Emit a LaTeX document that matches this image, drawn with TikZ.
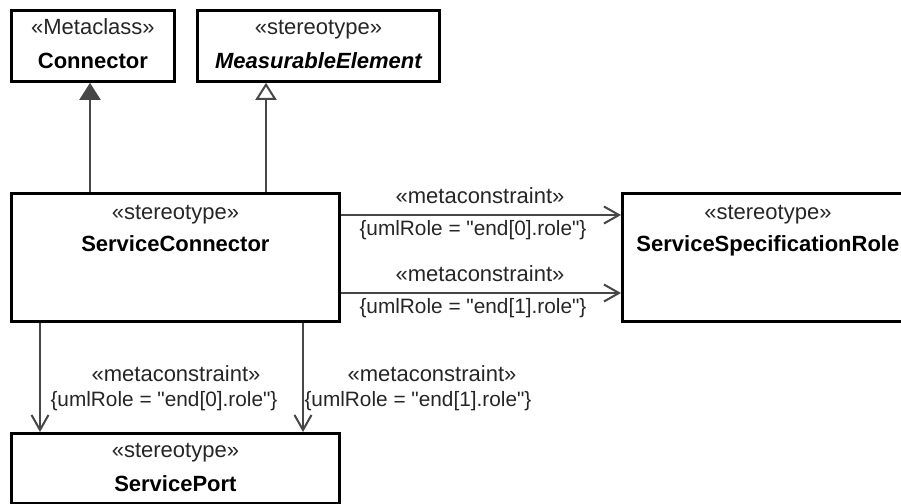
\documentclass[tikz,border=0pt]{standalone}
\usepackage{fontspec}
\setmainfont{Liberation Sans}
\newfontfamily\plainfont{Liberation Sans}
\usetikzlibrary{arrows.meta,calc}
\definecolor{linegray}{HTML}{474747}
\definecolor{txtgray}{HTML}{262626}
\begin{document}
\begin{tikzpicture}[x=0.5pt,y=-0.5pt,
  box/.style={draw=black,line width=1.4pt,fill=white,inner sep=0pt,anchor=north west},
  stereo/.style={font=\plainfont\fontsize{11pt}{13pt}\selectfont,text=txtgray,inner sep=0pt,anchor=base},
  cname/.style={font=\plainfont\fontsize{11pt}{13pt}\selectfont\bfseries,text=black,inner sep=0pt,anchor=base},
  lbl/.style={font=\plainfont\fontsize{11pt}{13pt}\selectfont,text=txtgray,inner sep=0pt,anchor=base},
  cst/.style={font=\plainfont\fontsize{10.4pt}{12pt}\selectfont,text=txtgray,inner sep=0pt,anchor=base},
  conn/.style={draw=linegray,line width=1pt},
  mc/.style={conn,-{Straight Barb[length=7.5pt,width=8.5pt,line width=1pt]}},
  ext/.style={conn,-{Triangle[length=8.5pt,width=10.5pt,fill=linegray]}},
  gen/.style={conn,-{Triangle[open,length=8.5pt,width=10.5pt,fill=white]}}]
\clip (0,0) rectangle (901,504);
\fill[white] (0,0) rectangle (901,504);

% boxes
\node[box,minimum width=81.5pt,minimum height=35.5pt] (conn) at (10,9) {};
\node[box,minimum width=121pt,minimum height=35.5pt] (meas) at (196,9) {};
\node[box,minimum width=164pt,minimum height=64pt] (sc) at (10,192) {};
\node[box,minimum width=145.5pt,minimum height=64pt] (ssr) at (621,192) {};
\node[box,minimum width=164pt,minimum height=35pt] (sp) at (10,432) {};

% box texts
\node[stereo] (conn-st) at ($(conn.north)+(0,25)$) {«Metaclass»};
\node[cname] (conn-nm) at ($(conn.north)+(0,59)$) {Connector};
\node[stereo] (meas-st) at ($(meas.north)+(0,25)$) {«stereotype»};
\node[cname] (meas-nm) at ($(meas.north)+(0,59)$) {\itshape MeasurableElement};
\node[stereo] (sc-st) at ($(sc.north)+(0,27)$) {«stereotype»};
\node[cname] (sc-nm) at ($(sc.north)+(0,59)$) {ServiceConnector};
\node[stereo] (ssr-st) at ($(ssr.north)+(0,27)$) {«stereotype»};
\node[cname] (ssr-nm) at ($(ssr.north)+(0,59)$) {ServiceSpecificationRole};
\node[stereo] (sp-st) at ($(sp.north)+(0,25)$) {«stereotype»};
\node[cname] (sp-nm) at ($(sp.north)+(0,59)$) {ServicePort};

% extension / generalization
\coordinate (a1) at ($(sc.north west)+(80,0)$);
\draw[ext] (a1) -- (a1 |- conn.south);
\coordinate (a2) at ($(sc.north west)+(256,0)$);
\draw[gen] (a2) -- (a2 |- meas.south);

% metaconstraints to ServiceSpecificationRole
\coordinate (b1) at ($(sc.north east)+(0,23)$);
\draw[mc] (b1) -- (b1 -| ssr.west);
\coordinate (b2) at ($(sc.north east)+(0,101)$);
\draw[mc] (b2) -- (b2 -| ssr.west);
\node[lbl] (l1a) at (480,203) {«metaconstraint»};
\node[cst] (l1b) at (473,235) {\{umlRole = "end[0].role"\}};
\node[lbl] (l2a) at (480,281) {«metaconstraint»};
\node[cst] (l2b) at (473,313) {\{umlRole = "end[1].role"\}};

% metaconstraints to ServicePort
\coordinate (c1) at ($(sc.south west)+(30,0)$);
\draw[mc] (c1) -- (c1 |- sp.north);
\coordinate (c2) at ($(sc.south west)+(293,0)$);
\draw[mc] (c2) -- (c2 |- sp.north);
\node[lbl] (l3a) at (176,381) {«metaconstraint»};
\node[cst] (l3b) at (164,406) {\{umlRole = "end[0].role"\}};
\node[lbl] (l4a) at (432,381) {«metaconstraint»};
\node[cst] (l4b) at (418,406) {\{umlRole = "end[1].role"\}};
\end{tikzpicture}
\end{document}
